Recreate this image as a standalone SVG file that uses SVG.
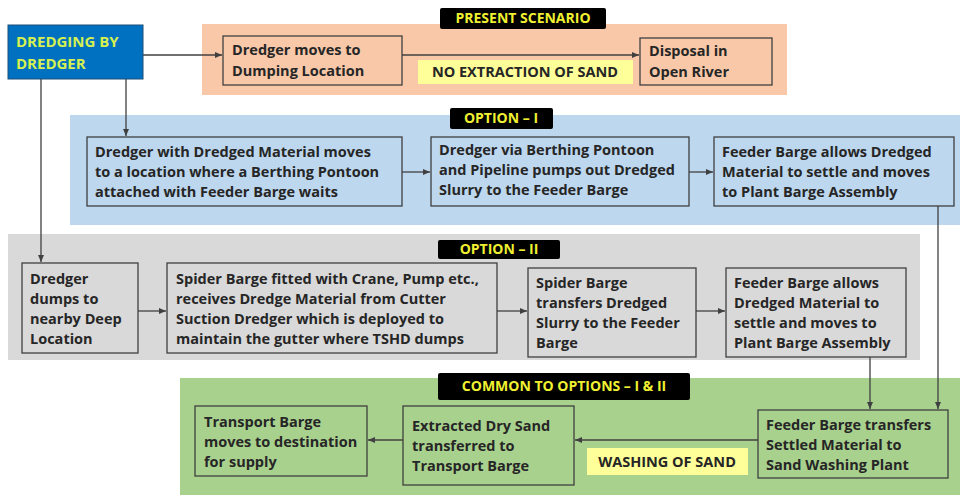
<svg xmlns="http://www.w3.org/2000/svg" width="960" height="498" viewBox="0 0 960 498">
<style>
text{font-family:"Open Sans","Liberation Sans",sans-serif;font-weight:bold;font-size:14.5px;fill:#262626}
.b{stroke:#404040;stroke-width:1.3}
.lbl{fill:#000}
.lt{fill:#f0f030;font-size:14px}
.y{fill:#ffff99}
.c{stroke:#404040;stroke-width:1.3;fill:none;marker-end:url(#a)}
</style>
<defs><marker id="a" markerWidth="8" markerHeight="8" refX="7" refY="4" orient="auto" markerUnits="userSpaceOnUse"><path d="M0,1 L7,4 L0,7 z" fill="#404040"/></marker></defs>
<rect width="960" height="498" fill="#fff"/>
<g id="panels">
<rect x="202" y="24" width="585" height="71" fill="#f8c8a8"/>
<rect x="70" y="115" width="890" height="110" fill="#bdd7ee"/>
<rect x="8" y="234" width="912" height="126" fill="#d9d9d9"/>
<rect x="180" y="378" width="780" height="117" fill="#a9d18e"/>
</g>
<g id="labels">
<rect class="lbl" x="440" y="8" width="166" height="21" rx="2"/><text class="lt" x="523" y="23" text-anchor="middle">PRESENT SCENARIO</text>
<rect class="lbl" x="450" y="108" width="103" height="21" rx="2"/><text class="lt" x="501" y="123" text-anchor="middle">OPTION – I</text>
<rect class="lbl" x="438" y="240" width="122" height="19" rx="2"/><text class="lt" x="499" y="254" text-anchor="middle">OPTION – II</text>
<rect class="lbl" x="438" y="373" width="252" height="27" rx="2"/><text class="lt" x="564" y="391" text-anchor="middle">COMMON TO OPTIONS – I &amp; II</text>
<rect class="y" x="418" y="60" width="215" height="24"/><text x="525" y="77" text-anchor="middle">NO EXTRACTION OF SAND</text>
<rect class="y" x="587" y="448" width="161" height="27"/><text x="667" y="467" text-anchor="middle">WASHING OF SAND</text>
</g>
<g id="connectors">
<path class="c" d="M143,55 H222"/>
<path class="c" d="M402,55 H639"/>
<path class="c" d="M126,79 V136"/>
<path class="c" d="M41,79 V262"/>
<path class="c" d="M402,172 H430"/>
<path class="c" d="M689,172 H713"/>
<path class="c" d="M938,206 V409"/>
<path class="c" d="M138,311 H166"/>
<path class="c" d="M497,311 H527"/>
<path class="c" d="M696,311 H725"/>
<path class="c" d="M870,357 V409"/>
<path class="c" d="M758,440 H575"/>
<path class="c" d="M403,440 H368"/>
</g>
<g id="n0"><rect x="8" y="25" width="135" height="54" fill="#0070c0" stroke="#1f4e79"/><text x="16" y="47" style="fill:#d6f050;font-size:15px">DREDGING BY</text><text x="16" y="69" style="fill:#d6f050;font-size:15px">DREDGER</text></g>
<g id="n1"><rect class="b" x="223" y="36" width="179" height="49" fill="#f8c8a8"/><text x="232" y="55">Dredger moves to</text><text x="232" y="76">Dumping Location</text></g>
<g id="n2"><rect class="b" x="640" y="38" width="132" height="47" fill="#f8c8a8"/><text x="649" y="56">Disposal in</text><text x="649" y="77">Open River</text></g>
<g id="n3"><rect class="b" x="87" y="137" width="315" height="69" fill="#bdd7ee"/><text x="95" y="157">Dredger with Dredged Material moves</text><text x="95" y="177">to a location where a Berthing Pontoon</text><text x="95" y="197">attached with Feeder Barge waits</text></g>
<g id="n4"><rect class="b" x="431" y="137" width="258" height="69" fill="#bdd7ee"/><text x="439" y="155">Dredger via Berthing Pontoon</text><text x="439" y="175">and Pipeline pumps out Dredged</text><text x="439" y="195">Slurry to the Feeder Barge</text></g>
<g id="n5"><rect class="b" x="714" y="137" width="240" height="69" fill="#bdd7ee"/><text x="722" y="157">Feeder Barge allows Dredged</text><text x="722" y="177">Material to settle and moves</text><text x="722" y="197">to Plant Barge Assembly</text></g>
<g id="n6"><rect class="b" x="22" y="263" width="116" height="90" fill="#d9d9d9"/><text x="30" y="284">Dredger</text><text x="30" y="304">dumps to</text><text x="30" y="324">nearby Deep</text><text x="30" y="344">Location</text></g>
<g id="n7"><rect class="b" x="167" y="263" width="330" height="90" fill="#d9d9d9"/><text x="176" y="284">Spider Barge fitted with Crane, Pump etc.,</text><text x="176" y="304">receives Dredge Material from Cutter</text><text x="176" y="324">Suction Dredger which is deployed to</text><text x="176" y="344">maintain the gutter where TSHD dumps</text></g>
<g id="n8"><rect class="b" x="528" y="268" width="168" height="89" fill="#d9d9d9"/><text x="536" y="288">Spider Barge</text><text x="536" y="308">transfers Dredged</text><text x="536" y="328">Slurry to the Feeder</text><text x="536" y="348">Barge</text></g>
<g id="n9"><rect class="b" x="726" y="268" width="180" height="89" fill="#d9d9d9"/><text x="734" y="288">Feeder Barge allows</text><text x="734" y="308">Dredged Material to</text><text x="734" y="328">settle and moves to</text><text x="734" y="348">Plant Barge Assembly</text></g>
<g id="n10"><rect class="b" x="758" y="410" width="190" height="68" fill="#a9d18e"/><text x="766" y="430">Feeder Barge transfers</text><text x="766" y="450">Settled Material to</text><text x="766" y="470">Sand Washing Plant</text></g>
<g id="n11"><rect class="b" x="403" y="406" width="171" height="79" fill="#a9d18e"/><text x="412" y="431">Extracted Dry Sand</text><text x="412" y="451">transferred to</text><text x="412" y="471">Transport Barge</text></g>
<g id="n12"><rect class="b" x="195" y="406" width="172" height="70" fill="#a9d18e"/><text x="204" y="427">Transport Barge</text><text x="204" y="447">moves to destination</text><text x="204" y="467">for supply</text></g>
</svg>
